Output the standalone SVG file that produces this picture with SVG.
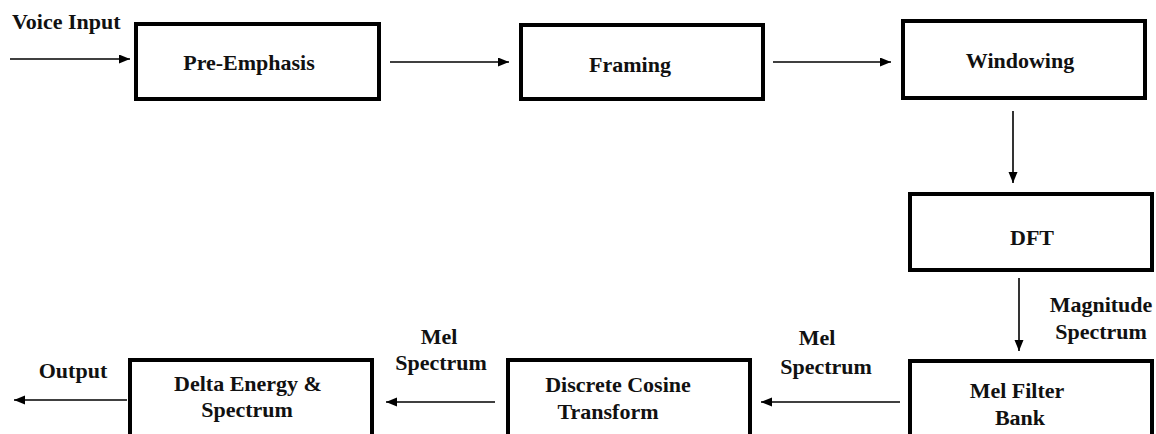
<svg xmlns="http://www.w3.org/2000/svg" width="1156" height="434" viewBox="0 0 1156 434" font-family="Liberation Serif, Times New Roman, serif">
<style>
.box{fill:#fff;stroke:#000;stroke-width:4}
.t{font-weight:bold;font-size:22px;fill:#111;text-anchor:middle}
.c{stroke:#000;stroke-width:1.6;fill:none;marker-end:url(#ah)}
</style>
<defs>
<marker id="ah" markerUnits="userSpaceOnUse" markerWidth="12" markerHeight="10" refX="11" refY="4.5" orient="auto">
<path d="M0,0 L11,4.5 L0,9 z" fill="#000"/>
</marker>
</defs>
<rect width="1156" height="434" fill="#fff"/>
<g id="connectors">
<line class="c" x1="10" y1="59" x2="130" y2="59"/>
<line class="c" x1="390" y1="62" x2="509" y2="62"/>
<line class="c" x1="773" y1="62" x2="891" y2="62"/>
<line class="c" x1="1013" y1="111" x2="1013" y2="183"/>
<line class="c" x1="1019" y1="278" x2="1019" y2="351"/>
<line class="c" x1="900" y1="402" x2="761" y2="402"/>
<line class="c" x1="495" y1="402" x2="386" y2="402"/>
<line class="c" x1="127" y1="400" x2="14" y2="400"/>
<text class="t" x="12" y="29" style="text-anchor:start">Voice Input</text>
<text class="t" x="1101" y="312">Magnitude</text>
<text class="t" x="1101" y="339">Spectrum</text>
<text class="t" x="817" y="345">Mel</text>
<text class="t" x="826" y="374">Spectrum</text>
<text class="t" x="439" y="344">Mel</text>
<text class="t" x="441" y="370">Spectrum</text>
<text class="t" x="73" y="378">Output</text>
</g>
<g id="pre-emphasis">
<rect class="box" x="136" y="24" width="243" height="75"/>
<text class="t" x="249" y="70">Pre-Emphasis</text>
</g>
<g id="framing">
<rect class="box" x="521" y="25" width="242" height="74"/>
<text class="t" x="630" y="72">Framing</text>
</g>
<g id="windowing">
<rect class="box" x="903" y="21" width="242" height="77"/>
<text class="t" x="1020" y="68">Windowing</text>
</g>
<g id="dft">
<rect class="box" x="910" y="194" width="242" height="76"/>
<text class="t" x="1032" y="245">DFT</text>
</g>
<g id="mel-filter-bank">
<rect class="box" x="910" y="361" width="242" height="100"/>
<text class="t" x="1017" y="398">Mel Filter</text>
<text class="t" x="1020" y="425">Bank</text>
</g>
<g id="dct">
<rect class="box" x="508" y="360" width="242" height="100"/>
<text class="t" x="618" y="392">Discrete Cosine</text>
<text class="t" x="608" y="419">Transform</text>
</g>
<g id="delta-energy">
<rect class="box" x="130" y="360" width="242" height="100"/>
<text class="t" x="248" y="391">Delta Energy &amp;</text>
<text class="t" x="247" y="417">Spectrum</text>
</g>
</svg>
